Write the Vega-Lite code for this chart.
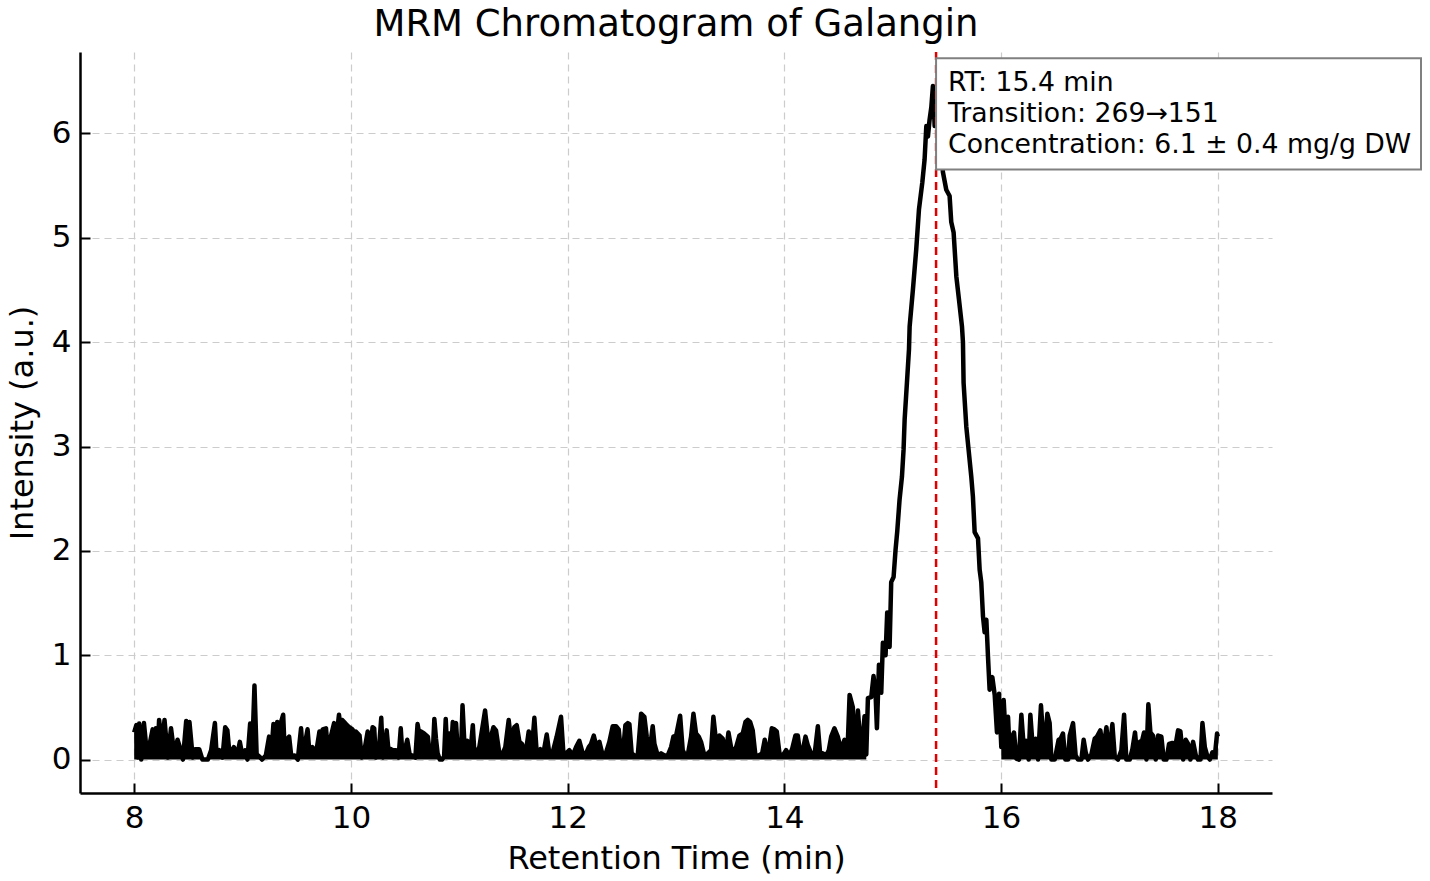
{
  "$schema": "https://vega.github.io/schema/vega-lite/v6.json",
  "description": "MRM chromatogram of galangin",
  "autosize": "none",
  "width": 1192,
  "height": 741,
  "padding": {"left": 80, "top": 52, "right": 158, "bottom": 88},
  "background": "white",
  "title": {
    "text": "MRM Chromatogram of Galangin",
    "font": "DejaVu Sans",
    "fontSize": 37,
    "fontWeight": "normal",
    "color": "black",
    "anchor": "middle",
    "frame": "group",
    "offset": 7
  },
  "config": {
    "view": {"stroke": null},
    "font": "DejaVu Sans",
    "axis": {
      "labelFont": "DejaVu Sans",
      "titleFont": "DejaVu Sans",
      "labelFontSize": 31,
      "titleFontSize": 32,
      "labelColor": "black",
      "titleColor": "black",
      "titleFontWeight": "normal",
      "domainColor": "black",
      "domainWidth": 2.5,
      "ticks": true,
      "tickColor": "black",
      "tickWidth": 2,
      "tickSize": -10,
      "gridColor": "#cccccc",
      "gridDash": [7, 5],
      "gridWidth": 1.2
    }
  },
  "data": {
    "values": [
      {"time": 8.0, "intensity": 0.26}, {"time": 8.02, "intensity": 0.33}, {"time": 8.035, "intensity": 0.02}, {"time": 8.046, "intensity": 0.345},
      {"time": 8.065, "intensity": 0}, {"time": 8.09, "intensity": 0.35}, {"time": 8.12, "intensity": 0.03}, {"time": 8.17, "intensity": 0.29},
      {"time": 8.185, "intensity": 0.1}, {"time": 8.2, "intensity": 0.3}, {"time": 8.215, "intensity": 0.05}, {"time": 8.23, "intensity": 0.38},
      {"time": 8.255, "intensity": 0.15}, {"time": 8.28, "intensity": 0.38}, {"time": 8.31, "intensity": 0.02}, {"time": 8.34, "intensity": 0.3},
      {"time": 8.37, "intensity": 0.05}, {"time": 8.4, "intensity": 0.19}, {"time": 8.43, "intensity": 0.09}, {"time": 8.45, "intensity": 0},
      {"time": 8.48, "intensity": 0.37}, {"time": 8.5, "intensity": 0.1}, {"time": 8.51, "intensity": 0.36}, {"time": 8.54, "intensity": 0.02},
      {"time": 8.56, "intensity": 0.1}, {"time": 8.6, "intensity": 0.1}, {"time": 8.63, "intensity": 0}, {"time": 8.68, "intensity": 0},
      {"time": 8.71, "intensity": 0.09}, {"time": 8.745, "intensity": 0.35}, {"time": 8.76, "intensity": 0.05}, {"time": 8.785, "intensity": 0.09},
      {"time": 8.815, "intensity": 0.02}, {"time": 8.84, "intensity": 0.31}, {"time": 8.86, "intensity": 0.28}, {"time": 8.88, "intensity": 0.05},
      {"time": 8.92, "intensity": 0.12}, {"time": 8.95, "intensity": 0.04}, {"time": 8.975, "intensity": 0.17}, {"time": 9.0, "intensity": 0.03},
      {"time": 9.025, "intensity": 0.09}, {"time": 9.045, "intensity": 0}, {"time": 9.07, "intensity": 0.345}, {"time": 9.09, "intensity": 0.1},
      {"time": 9.11, "intensity": 0.71}, {"time": 9.13, "intensity": 0.05}, {"time": 9.155, "intensity": 0.03}, {"time": 9.18, "intensity": 0},
      {"time": 9.215, "intensity": 0.04}, {"time": 9.245, "intensity": 0.22}, {"time": 9.265, "intensity": 0.05}, {"time": 9.285, "intensity": 0.34},
      {"time": 9.3, "intensity": 0.18}, {"time": 9.32, "intensity": 0.36}, {"time": 9.34, "intensity": 0.1}, {"time": 9.355, "intensity": 0.36},
      {"time": 9.375, "intensity": 0.43}, {"time": 9.39, "intensity": 0.05}, {"time": 9.415, "intensity": 0.2}, {"time": 9.43, "intensity": 0.22},
      {"time": 9.45, "intensity": 0.03}, {"time": 9.48, "intensity": 0.04}, {"time": 9.51, "intensity": 0}, {"time": 9.54, "intensity": 0.3},
      {"time": 9.555, "intensity": 0.05}, {"time": 9.57, "intensity": 0.12}, {"time": 9.6, "intensity": 0.29}, {"time": 9.62, "intensity": 0.03},
      {"time": 9.645, "intensity": 0.12}, {"time": 9.675, "intensity": 0.04}, {"time": 9.71, "intensity": 0.27}, {"time": 9.72, "intensity": 0.1},
      {"time": 9.74, "intensity": 0.29}, {"time": 9.77, "intensity": 0.3}, {"time": 9.79, "intensity": 0.05}, {"time": 9.815, "intensity": 0.22},
      {"time": 9.845, "intensity": 0.35}, {"time": 9.865, "intensity": 0.2}, {"time": 9.89, "intensity": 0.43}, {"time": 9.905, "intensity": 0.3},
      {"time": 9.92, "intensity": 0.38}, {"time": 9.955, "intensity": 0.34}, {"time": 9.985, "intensity": 0.31}, {"time": 10.015, "intensity": 0.29},
      {"time": 10.03, "intensity": 0.05}, {"time": 10.045, "intensity": 0.27}, {"time": 10.08, "intensity": 0.23}, {"time": 10.1, "intensity": 0.02},
      {"time": 10.12, "intensity": 0.06}, {"time": 10.155, "intensity": 0.27}, {"time": 10.175, "intensity": 0.05}, {"time": 10.2, "intensity": 0.31},
      {"time": 10.215, "intensity": 0.3}, {"time": 10.23, "intensity": 0.02}, {"time": 10.255, "intensity": 0.05}, {"time": 10.28, "intensity": 0.4},
      {"time": 10.295, "intensity": 0.02}, {"time": 10.31, "intensity": 0.06}, {"time": 10.33, "intensity": 0.28}, {"time": 10.35, "intensity": 0.05},
      {"time": 10.37, "intensity": 0.1}, {"time": 10.39, "intensity": 0.09}, {"time": 10.415, "intensity": 0.09}, {"time": 10.44, "intensity": 0.02},
      {"time": 10.46, "intensity": 0.3}, {"time": 10.475, "intensity": 0.05}, {"time": 10.49, "intensity": 0.06}, {"time": 10.52, "intensity": 0.19},
      {"time": 10.545, "intensity": 0.03}, {"time": 10.57, "intensity": 0.04}, {"time": 10.595, "intensity": 0.02}, {"time": 10.615, "intensity": 0.34},
      {"time": 10.63, "intensity": 0.25}, {"time": 10.645, "intensity": 0.27}, {"time": 10.675, "intensity": 0.25}, {"time": 10.71, "intensity": 0.22},
      {"time": 10.73, "intensity": 0.04}, {"time": 10.755, "intensity": 0.05}, {"time": 10.77, "intensity": 0.39}, {"time": 10.785, "intensity": 0.2},
      {"time": 10.8, "intensity": 0.06}, {"time": 10.82, "intensity": 0}, {"time": 10.84, "intensity": 0}, {"time": 10.86, "intensity": 0.03},
      {"time": 10.875, "intensity": 0.39}, {"time": 10.89, "intensity": 0.05}, {"time": 10.91, "intensity": 0.25}, {"time": 10.925, "intensity": 0.1},
      {"time": 10.94, "intensity": 0.36}, {"time": 10.955, "intensity": 0.3}, {"time": 10.97, "intensity": 0.35}, {"time": 10.985, "intensity": 0.1},
      {"time": 11.0, "intensity": 0.04}, {"time": 11.015, "intensity": 0.03}, {"time": 11.03, "intensity": 0.52}, {"time": 11.05, "intensity": 0.1},
      {"time": 11.075, "intensity": 0.18}, {"time": 11.1, "intensity": 0.03}, {"time": 11.125, "intensity": 0.33}, {"time": 11.14, "intensity": 0.05},
      {"time": 11.17, "intensity": 0.09}, {"time": 11.185, "intensity": 0.12}, {"time": 11.238, "intensity": 0.47}, {"time": 11.262, "intensity": 0.23},
      {"time": 11.293, "intensity": 0.22}, {"time": 11.315, "intensity": 0.31}, {"time": 11.339, "intensity": 0.28}, {"time": 11.37, "intensity": 0.06},
      {"time": 11.401, "intensity": 0.06}, {"time": 11.425, "intensity": 0.12}, {"time": 11.456, "intensity": 0.38}, {"time": 11.478, "intensity": 0.17},
      {"time": 11.508, "intensity": 0.31}, {"time": 11.53, "intensity": 0.33}, {"time": 11.555, "intensity": 0.17}, {"time": 11.579, "intensity": 0.15},
      {"time": 11.61, "intensity": 0.04}, {"time": 11.641, "intensity": 0.27}, {"time": 11.668, "intensity": 0.07}, {"time": 11.693, "intensity": 0.4},
      {"time": 11.715, "intensity": 0.06}, {"time": 11.748, "intensity": 0.1}, {"time": 11.776, "intensity": 0.06}, {"time": 11.807, "intensity": 0.24},
      {"time": 11.831, "intensity": 0.06}, {"time": 11.862, "intensity": 0.07}, {"time": 11.899, "intensity": 0.22}, {"time": 11.939, "intensity": 0.41},
      {"time": 11.961, "intensity": 0.06}, {"time": 11.985, "intensity": 0.06}, {"time": 12.016, "intensity": 0.09}, {"time": 12.047, "intensity": 0.04},
      {"time": 12.078, "intensity": 0.12}, {"time": 12.108, "intensity": 0.18}, {"time": 12.139, "intensity": 0.06}, {"time": 12.17, "intensity": 0.06},
      {"time": 12.195, "intensity": 0.12}, {"time": 12.216, "intensity": 0.15}, {"time": 12.241, "intensity": 0.23}, {"time": 12.262, "intensity": 0.14},
      {"time": 12.293, "intensity": 0.17}, {"time": 12.324, "intensity": 0.04}, {"time": 12.355, "intensity": 0.07}, {"time": 12.385, "intensity": 0.17},
      {"time": 12.416, "intensity": 0.32}, {"time": 12.447, "intensity": 0.32}, {"time": 12.471, "intensity": 0.29}, {"time": 12.493, "intensity": 0.06},
      {"time": 12.508, "intensity": 0.04}, {"time": 12.533, "intensity": 0.33}, {"time": 12.555, "intensity": 0.35}, {"time": 12.57, "intensity": 0.34},
      {"time": 12.591, "intensity": 0.06}, {"time": 12.616, "intensity": 0.04}, {"time": 12.647, "intensity": 0.04}, {"time": 12.678, "intensity": 0.44},
      {"time": 12.708, "intensity": 0.41}, {"time": 12.73, "intensity": 0.22}, {"time": 12.755, "intensity": 0.06}, {"time": 12.785, "intensity": 0.32},
      {"time": 12.801, "intensity": 0.15}, {"time": 12.831, "intensity": 0.04}, {"time": 12.862, "intensity": 0.06}, {"time": 12.893, "intensity": 0.04},
      {"time": 12.924, "intensity": 0.04}, {"time": 12.955, "intensity": 0.12}, {"time": 12.976, "intensity": 0.22}, {"time": 13.001, "intensity": 0.23},
      {"time": 13.038, "intensity": 0.42}, {"time": 13.062, "intensity": 0.09}, {"time": 13.087, "intensity": 0.04}, {"time": 13.108, "intensity": 0.04},
      {"time": 13.139, "intensity": 0.22}, {"time": 13.161, "intensity": 0.44}, {"time": 13.185, "intensity": 0.25}, {"time": 13.21, "intensity": 0.22},
      {"time": 13.231, "intensity": 0.17}, {"time": 13.262, "intensity": 0.04}, {"time": 13.293, "intensity": 0.06}, {"time": 13.324, "intensity": 0.09},
      {"time": 13.345, "intensity": 0.41}, {"time": 13.37, "intensity": 0.17}, {"time": 13.401, "intensity": 0.23}, {"time": 13.431, "intensity": 0.2},
      {"time": 13.462, "intensity": 0.07}, {"time": 13.484, "intensity": 0.26}, {"time": 13.508, "intensity": 0.12}, {"time": 13.53, "intensity": 0.07},
      {"time": 13.555, "intensity": 0.12}, {"time": 13.585, "intensity": 0.23}, {"time": 13.616, "intensity": 0.25}, {"time": 13.641, "intensity": 0.36},
      {"time": 13.662, "intensity": 0.38}, {"time": 13.684, "intensity": 0.36}, {"time": 13.708, "intensity": 0.28}, {"time": 13.733, "intensity": 0.04},
      {"time": 13.764, "intensity": 0.04}, {"time": 13.795, "intensity": 0.06}, {"time": 13.819, "intensity": 0.19}, {"time": 13.841, "intensity": 0.04},
      {"time": 13.862, "intensity": 0.14}, {"time": 13.884, "intensity": 0.3}, {"time": 13.908, "intensity": 0.29}, {"time": 13.93, "intensity": 0.27},
      {"time": 13.955, "intensity": 0.06}, {"time": 13.985, "intensity": 0.04}, {"time": 14.016, "intensity": 0.09}, {"time": 14.047, "intensity": 0.04},
      {"time": 14.071, "intensity": 0.1}, {"time": 14.102, "intensity": 0.23}, {"time": 14.124, "intensity": 0.23}, {"time": 14.145, "intensity": 0.06},
      {"time": 14.17, "intensity": 0.09}, {"time": 14.195, "intensity": 0.22}, {"time": 14.216, "intensity": 0.14}, {"time": 14.247, "intensity": 0.06},
      {"time": 14.278, "intensity": 0.04}, {"time": 14.309, "intensity": 0.32}, {"time": 14.33, "intensity": 0.06}, {"time": 14.355, "intensity": 0.06},
      {"time": 14.385, "intensity": 0.04}, {"time": 14.41, "intensity": 0.09}, {"time": 14.432, "intensity": 0.22}, {"time": 14.462, "intensity": 0.3},
      {"time": 14.493, "intensity": 0.22}, {"time": 14.524, "intensity": 0.09}, {"time": 14.555, "intensity": 0.19}, {"time": 14.585, "intensity": 0.15},
      {"time": 14.602, "intensity": 0.62}, {"time": 14.632, "intensity": 0.5}, {"time": 14.648, "intensity": 0.05}, {"time": 14.679, "intensity": 0.47},
      {"time": 14.709, "intensity": 0.04}, {"time": 14.74, "intensity": 0.415}, {"time": 14.756, "intensity": 0.05}, {"time": 14.771, "intensity": 0.59},
      {"time": 14.802, "intensity": 0.6}, {"time": 14.823, "intensity": 0.8}, {"time": 14.842, "intensity": 0.62}, {"time": 14.854, "intensity": 0.3},
      {"time": 14.873, "intensity": 0.91}, {"time": 14.894, "intensity": 0.64}, {"time": 14.909, "intensity": 1.12}, {"time": 14.934, "intensity": 1.0},
      {"time": 14.949, "intensity": 1.41}, {"time": 14.971, "intensity": 1.08}, {"time": 14.986, "intensity": 1.7}, {"time": 15.008, "intensity": 1.75},
      {"time": 15.026, "intensity": 2.01}, {"time": 15.042, "intensity": 2.19}, {"time": 15.063, "intensity": 2.49}, {"time": 15.085, "intensity": 2.71},
      {"time": 15.1, "intensity": 2.97}, {"time": 15.11, "intensity": 3.26}, {"time": 15.131, "intensity": 3.61}, {"time": 15.15, "intensity": 3.93},
      {"time": 15.156, "intensity": 4.15}, {"time": 15.186, "intensity": 4.5}, {"time": 15.217, "intensity": 4.89}, {"time": 15.242, "intensity": 5.27},
      {"time": 15.273, "intensity": 5.53}, {"time": 15.294, "intensity": 5.75}, {"time": 15.31, "intensity": 6.07}, {"time": 15.325, "intensity": 5.97},
      {"time": 15.34, "intensity": 6.13}, {"time": 15.356, "intensity": 6.25}, {"time": 15.371, "intensity": 6.455}, {"time": 15.387, "intensity": 6.07},
      {"time": 15.41, "intensity": 6.3}, {"time": 15.43, "intensity": 6.0}, {"time": 15.45, "intensity": 5.85}, {"time": 15.463, "intensity": 5.63},
      {"time": 15.494, "intensity": 5.46}, {"time": 15.525, "intensity": 5.4}, {"time": 15.54, "intensity": 5.15}, {"time": 15.562, "intensity": 5.05},
      {"time": 15.587, "intensity": 4.63}, {"time": 15.611, "intensity": 4.41}, {"time": 15.639, "intensity": 4.15}, {"time": 15.648, "intensity": 4.0},
      {"time": 15.654, "intensity": 3.61}, {"time": 15.679, "intensity": 3.19}, {"time": 15.7, "intensity": 2.97}, {"time": 15.725, "intensity": 2.71},
      {"time": 15.74, "intensity": 2.52}, {"time": 15.756, "intensity": 2.18}, {"time": 15.787, "intensity": 2.12}, {"time": 15.802, "intensity": 1.82},
      {"time": 15.817, "intensity": 1.7}, {"time": 15.833, "intensity": 1.37}, {"time": 15.848, "intensity": 1.22}, {"time": 15.864, "intensity": 1.34},
      {"time": 15.879, "intensity": 0.99}, {"time": 15.894, "intensity": 0.67}, {"time": 15.919, "intensity": 0.79}, {"time": 15.941, "intensity": 0.62},
      {"time": 15.962, "intensity": 0.26}, {"time": 15.981, "intensity": 0.63}, {"time": 16.002, "intensity": 0.12}, {"time": 16.024, "intensity": 0.57},
      {"time": 16.042, "intensity": 0.22}, {"time": 16.064, "intensity": 0.41}, {"time": 16.079, "intensity": 0.06}, {"time": 16.101, "intensity": 0.22},
      {"time": 16.119, "intensity": 0.26}, {"time": 16.141, "intensity": 0.01}, {"time": 16.165, "intensity": 0}, {"time": 16.187, "intensity": 0.43},
      {"time": 16.211, "intensity": 0.09}, {"time": 16.233, "intensity": 0.18}, {"time": 16.254, "intensity": 0}, {"time": 16.27, "intensity": 0.43},
      {"time": 16.294, "intensity": 0.09}, {"time": 16.319, "intensity": 0.2}, {"time": 16.341, "intensity": 0}, {"time": 16.368, "intensity": 0.52},
      {"time": 16.387, "intensity": 0.23}, {"time": 16.408, "intensity": 0.19}, {"time": 16.427, "intensity": 0.44}, {"time": 16.448, "intensity": 0.35},
      {"time": 16.464, "intensity": 0}, {"time": 16.495, "intensity": 0}, {"time": 16.531, "intensity": 0.19}, {"time": 16.55, "intensity": 0.2},
      {"time": 16.571, "intensity": 0.25}, {"time": 16.593, "intensity": 0}, {"time": 16.618, "intensity": 0}, {"time": 16.633, "intensity": 0.23},
      {"time": 16.664, "intensity": 0.35}, {"time": 16.688, "intensity": 0.04}, {"time": 16.71, "intensity": 0}, {"time": 16.741, "intensity": 0},
      {"time": 16.762, "intensity": 0.19}, {"time": 16.781, "intensity": 0.07}, {"time": 16.802, "intensity": 0}, {"time": 16.833, "intensity": 0.05},
      {"time": 16.864, "intensity": 0.2}, {"time": 16.885, "intensity": 0.22}, {"time": 16.916, "intensity": 0.28}, {"time": 16.941, "intensity": 0.09},
      {"time": 16.972, "intensity": 0.31}, {"time": 16.996, "intensity": 0.04}, {"time": 17.027, "intensity": 0.34}, {"time": 17.049, "intensity": 0.03},
      {"time": 17.079, "intensity": 0}, {"time": 17.11, "intensity": 0.09}, {"time": 17.135, "intensity": 0.43}, {"time": 17.156, "intensity": 0},
      {"time": 17.187, "intensity": 0}, {"time": 17.212, "intensity": 0.1}, {"time": 17.236, "intensity": 0.26}, {"time": 17.255, "intensity": 0.04},
      {"time": 17.279, "intensity": 0.17}, {"time": 17.301, "intensity": 0.18}, {"time": 17.319, "intensity": 0.26}, {"time": 17.341, "intensity": 0},
      {"time": 17.359, "intensity": 0.53}, {"time": 17.378, "intensity": 0.26}, {"time": 17.402, "intensity": 0.23}, {"time": 17.427, "intensity": 0},
      {"time": 17.449, "intensity": 0.23}, {"time": 17.479, "intensity": 0.22}, {"time": 17.501, "intensity": 0}, {"time": 17.526, "intensity": 0},
      {"time": 17.55, "intensity": 0.15}, {"time": 17.581, "intensity": 0.16}, {"time": 17.612, "intensity": 0.15}, {"time": 17.633, "intensity": 0.28},
      {"time": 17.655, "intensity": 0.27}, {"time": 17.68, "intensity": 0}, {"time": 17.704, "intensity": 0.19}, {"time": 17.726, "intensity": 0.15},
      {"time": 17.747, "intensity": 0}, {"time": 17.772, "intensity": 0.17}, {"time": 17.797, "intensity": 0.04}, {"time": 17.818, "intensity": 0},
      {"time": 17.84, "intensity": 0}, {"time": 17.858, "intensity": 0.35}, {"time": 17.88, "intensity": 0.12}, {"time": 17.901, "intensity": 0.04},
      {"time": 17.926, "intensity": 0}, {"time": 17.95, "intensity": 0.07}, {"time": 17.972, "intensity": 0.03}, {"time": 17.993, "intensity": 0.25},
      {"time": 18.0, "intensity": 0.22}
    ]
  },
  "layer": [
    {
      "transform": [{"filter": "datum.time <= 14.76"}],
      "mark": {"type": "area", "color": "black", "opacity": 1},
      "encoding": {
        "x": {
          "field": "time",
          "type": "quantitative",
          "scale": {"domain": [7.5, 18.5], "nice": false, "zero": false},
          "axis": {
            "title": "Retention Time (min)",
            "values": [8, 10, 12, 14, 16, 18],
            "format": "d",
            "grid": true,
            "ticks": true,
            "tickSize": -10,
            "labelPadding": 20,
            "titlePadding": 10
          }
        },
        "y": {
          "field": "intensity",
          "type": "quantitative",
          "scale": {"domain": [-0.32, 6.78], "nice": false, "zero": false},
          "axis": {
            "title": "Intensity (a.u.)",
            "values": [0, 1, 2, 3, 4, 5, 6],
            "format": "d",
            "grid": true,
            "ticks": true,
            "tickSize": -10,
            "labelPadding": 19,
            "titlePadding": 12
          }
        },
        "y2": {"datum": 0}
      }
    },
    {
      "transform": [{"filter": "datum.time >= 16.0"}],
      "mark": {"type": "area", "color": "black", "opacity": 1},
      "encoding": {
        "x": {"field": "time", "type": "quantitative"},
        "y": {"field": "intensity", "type": "quantitative"},
        "y2": {"datum": 0}
      }
    },
    {
      "mark": {"type": "line", "color": "black", "strokeWidth": 4.5, "strokeJoin": "round"},
      "encoding": {
        "x": {"field": "time", "type": "quantitative"},
        "y": {"field": "intensity", "type": "quantitative"}
      }
    },
    {
      "data": {"values": [{}]},
      "mark": {"type": "rule", "color": "#e00000", "strokeWidth": 2.5, "strokeDash": [8, 5]},
      "encoding": {
        "x": {"datum": 15.4, "type": "quantitative"}
      }
    },
    {
      "data": {"values": [{}]},
      "mark": {"type": "rect", "fill": "white", "stroke": "#808080", "strokeWidth": 2},
      "encoding": {
        "x": {"datum": 15.4, "type": "quantitative"},
        "x2": {"datum": 19.875},
        "y": {"datum": 5.655, "type": "quantitative"},
        "y2": {"datum": 6.719}
      }
    },
    {
      "data": {"values": [{}]},
      "mark": {
        "type": "text",
        "text": ["RT: 15.4 min", "Transition: 269→151", "Concentration: 6.1 ± 0.4 mg/g DW"],
        "font": "DejaVu Sans",
        "fontSize": 26.7,
        "lineHeight": 31,
        "align": "left",
        "baseline": "alphabetic",
        "color": "black"
      },
      "encoding": {
        "x": {"datum": 15.51, "type": "quantitative"},
        "y": {"datum": 6.403, "type": "quantitative"}
      }
    }
  ]
}
